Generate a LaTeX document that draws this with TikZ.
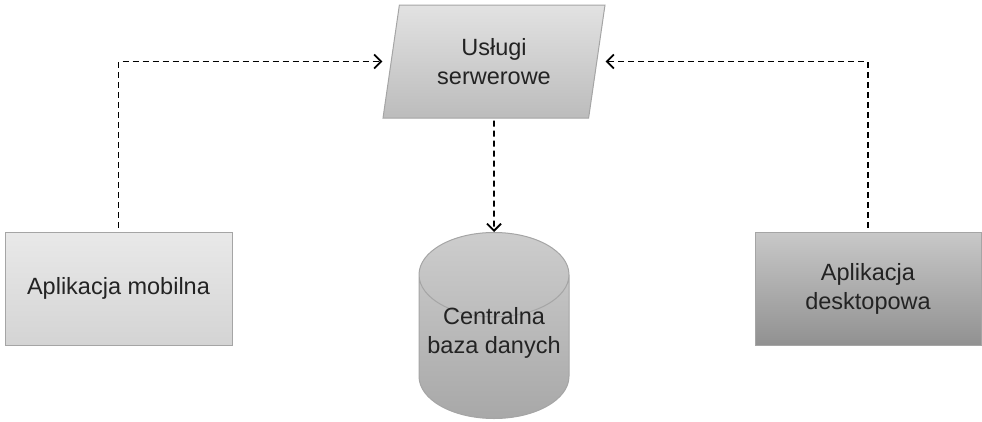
\documentclass[tikz,border=0pt]{standalone}
\usepackage{fontspec}
\setmainfont{Liberation Sans}
\usetikzlibrary{shapes.geometric,arrows.meta}

\definecolor{edgeGray}{RGB}{165,165,165}
\definecolor{textGray}{RGB}{35,35,35}
\definecolor{mobileTop}{RGB}{233,233,233}
\definecolor{mobileBottom}{RGB}{212,212,212}
\definecolor{serverTop}{RGB}{226,226,226}
\definecolor{serverBottom}{RGB}{188,188,188}
\definecolor{dbTop}{RGB}{205,205,205}
\definecolor{dbBottom}{RGB}{168,168,168}
\definecolor{desktopTop}{RGB}{200,200,200}
\definecolor{desktopBottom}{RGB}{145,145,145}

\begin{document}
\begin{tikzpicture}[x=1pt,y=-1pt,
  txt/.style={align=center, text=textGray, font=\fontsize{23.5}{29}\selectfont},
  box/.style={txt, draw=edgeGray, line width=1pt, inner sep=0pt},
  link/.style={dash pattern=on 6pt off 4pt, line width=1.8pt,
    -{Straight Barb[length=7pt,width=14pt]}}]
  \useasboundingbox (0,0) rectangle (982,421);
  % Nodes
  \node[box, trapezium, trapezium left angle=70.5, trapezium right angle=109.5,
    trapezium stretches body, minimum width=222pt, minimum height=113pt,
    top color=serverTop, bottom color=serverBottom] (srv) at (494,61.5) {Usługi\\serwerowe};
  \node[box, minimum width=227pt, minimum height=113pt,
    top color=mobileTop, bottom color=mobileBottom] (mob) at (118.5,288.5) {Aplikacja mobilna};
  \node[box, minimum width=226pt, minimum height=113pt,
    top color=desktopTop, bottom color=desktopBottom] (dsk) at (868,288.5) {Aplikacja\\desktopowa};
  \node[box, cylinder, shape border rotate=90, aspect=0.62, inner xsep=68pt,
    minimum width=150pt, minimum height=186pt, anchor=north,
    top color=dbTop, bottom color=dbBottom,
    label={[txt, yshift=35pt]center:Centralna\\baza danych}] (db) at (494,232) {};
  % Connections
  \draw[link] ([yshift=4pt]mob.north) |- (srv.bottom left corner |- srv.center);
  \draw[link] ([yshift=4pt]dsk.north) |- (srv.top right corner |- srv.center);
  \draw[link] ([yshift=-2pt]srv.south) -- (db.north);
\end{tikzpicture}
\end{document}
